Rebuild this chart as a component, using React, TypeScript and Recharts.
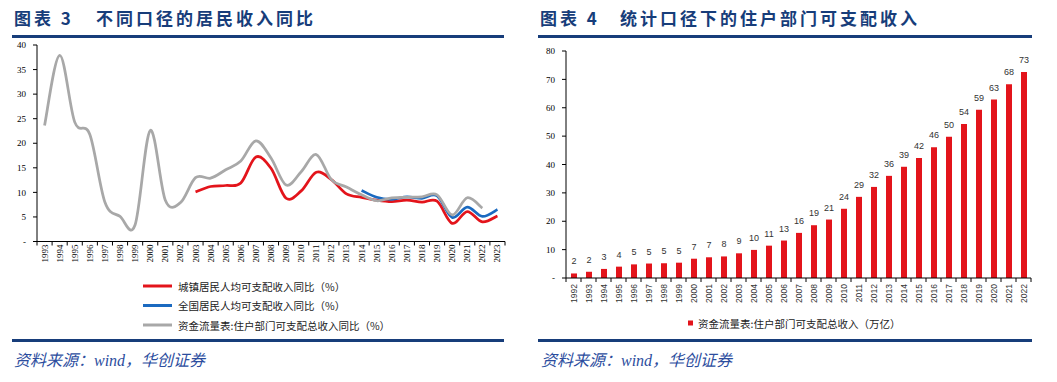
import React from 'react';
import { LineChart, Line, XAxis, YAxis, BarChart, Bar, LabelList } from 'recharts';

// ---------- Left chart data (图表 3) ----------
const lineYears = ['1993','1994','1995','1996','1997','1998','1999','2000','2001','2002','2003','2004','2005','2006','2007','2008','2009','2010','2011','2012','2013','2014','2015','2016','2017','2018','2019','2020','2021','2022','2023'];
const urbanIncomeYoY: (number | null)[] = [null,null,null,null,null,null,null,null,null,null,10.1,11.2,11.4,11.9,17.2,14.9,8.8,10.3,14.1,12.6,9.7,9.0,8.4,8.1,8.4,8.0,8.2,3.7,6.1,4.0,5.2];
const nationalIncomeYoY: (number | null)[] = [null,null,null,null,null,null,null,null,null,null,null,null,null,null,null,null,null,null,null,null,null,10.4,9.0,8.6,9.1,8.8,9.3,4.9,7.0,5.1,6.5];
const flowOfFundsYoY: (number | null)[] = [23.6,37.9,24.3,21.8,8.0,5.1,3.4,22.6,8.4,7.9,13.0,12.9,14.6,16.4,20.5,17.0,11.5,14.2,17.7,12.6,11.1,9.5,8.3,8.9,9.0,9.1,9.5,5.4,8.9,6.8,null];
const lineYTicks = [0,5,10,15,20,25,30,35,40];
const lineSeriesNames = ['城镇居民人均可支配收入同比（%）','全国居民人均可支配收入同比（%）','资金流量表:住户部门可支配总收入同比（%）'];

// ---------- Right chart data (图表 4) ----------
const barYears = ['1992','1993','1994','1995','1996','1997','1998','1999','2000','2001','2002','2003','2004','2005','2006','2007','2008','2009','2010','2011','2012','2013','2014','2015','2016','2017','2018','2019','2020','2021','2022'];
const householdIncome = [1.6,2.2,3.2,4.0,4.8,5.1,5.2,5.4,6.8,7.3,7.6,8.7,9.9,11.4,13.2,15.9,18.6,20.6,24.4,28.6,32.1,36.0,39.2,42.3,46.1,49.8,54.3,59.3,62.9,68.3,72.6];
const barYTicks = [0,10,20,30,40,50,60,70,80];
const barSeriesName = '资金流量表:住户部门可支配总收入（万亿）';

const lineData = lineYears.map((year, i) => ({
  year,
  urban: urbanIncomeYoY[i],
  national: nationalIncomeYoY[i],
  flow: flowOfFundsYoY[i],
}));
const barData = barYears.map((year, i) => ({ year, value: householdIncome[i] }));

// ---------- styling ----------
const RED = '#e3141b';
const BLUE = '#1b6ac0';
const GRAY = '#a8a8a8';
const NAVY = '#173d7a';
const SRC = '#2c4d9e';
const SERIF = '"Liberation Serif", "DejaVu Serif", serif';
const SANS = '"Liberation Sans", Arial, sans-serif';
const CJK = '"Noto Sans CJK SC", sans-serif';

// Excel-like smoothed line (Catmull-Rom via Bezier)
function smoothCurve(context: any) {
  let pts: number[][] = [];
  return {
    areaStart() {},
    areaEnd() {},
    lineStart() { pts = []; },
    point(x: number, y: number) { pts.push([+x, +y]); },
    lineEnd() {
      if (!pts.length) return;
      context.moveTo(pts[0][0], pts[0][1]);
      const t = 1 / 6;
      for (let i = 0; i < pts.length - 1; i++) {
        const p0 = pts[i - 1] || pts[i];
        const p1 = pts[i];
        const p2 = pts[i + 1];
        const p3 = pts[i + 2] || p2;
        context.bezierCurveTo(
          p1[0] + (p2[0] - p0[0]) * t, p1[1] + (p2[1] - p0[1]) * t,
          p2[0] - (p3[0] - p1[0]) * t, p2[1] - (p3[1] - p1[1]) * t,
          p2[0], p2[1]
        );
      }
    },
  };
}

const LEFT_PLOT_W = 468;
const RIGHT_PLOT_W = 465;
const LEFT_BAND = LEFT_PLOT_W / lineYears.length;

function makeTick(band: number, count: number, labelOffset: number, fontSize: number, family: string, color: string) {
  return (props: any) => {
    const { x, y, payload, index } = props;
    const half = band / 2;
    const ty = y + labelOffset;
    return (
      <g>
        <line x1={x - half} x2={x - half} y1={y} y2={y + 4} stroke="#000" strokeWidth={1} />
        {index === count - 1 && <line x1={x + half} x2={x + half} y1={y} y2={y + 4} stroke="#000" strokeWidth={1} />}
        <text
          x={x}
          y={ty}
          transform={`rotate(-90 ${x} ${ty})`}
          textAnchor="end"
          dominantBaseline="central"
          fontSize={fontSize}
          fontFamily={family}
          fill={color}
        >
          {payload.value}
        </text>
      </g>
    );
  };
}

const LeftTick = makeTick(LEFT_BAND, lineYears.length, 3, 9, SERIF, '#000');
const RightTick = makeTick(RIGHT_PLOT_W / barYears.length, barYears.length, 6, 8.5, SANS, '#333');

const yFmt = (v: number) => (v === 0 ? '-' : String(v));

export default function App() {
  return (
    <div style={{ position: 'absolute', left: 0, top: 0, width: 1057, height: 382, background: '#fff', overflow: 'hidden' }}>
      <div style={{ position: 'absolute', left: 0, top: 0 }}>
        <LineChart width={530} height={280} data={lineData} margin={{ top: 45, right: 25, left: 0, bottom: 0 }}>
          <XAxis
            dataKey="year"
            interval={0}
            tickLine={false}
            tickSize={0}
            tickMargin={0}
            height={38.5}
            padding={{ left: LEFT_BAND / 2, right: LEFT_BAND / 2 }}
            axisLine={{ stroke: '#000', strokeWidth: 1 }}
            tick={<LeftTick />}
          />
          <YAxis
            domain={[0, 40]}
            ticks={lineYTicks}
            width={37}
            tickSize={4}
            tickMargin={7}
            tickFormatter={yFmt}
            axisLine={{ stroke: '#000', strokeWidth: 1 }}
            tickLine={{ stroke: '#000' }}
            tick={{ fontSize: 9, fill: '#000', fontFamily: SERIF }}
            interval={0}
          />
          <Line dataKey="urban" name={lineSeriesNames[0]} type={smoothCurve as any} stroke={RED} strokeWidth={2.75} dot={false} isAnimationActive={false} />
          <Line dataKey="national" name={lineSeriesNames[1]} type={smoothCurve as any} stroke={BLUE} strokeWidth={2.75} dot={false} isAnimationActive={false} />
          <Line dataKey="flow" name={lineSeriesNames[2]} type={smoothCurve as any} stroke={GRAY} strokeWidth={2.75} dot={false} isAnimationActive={false} />
        </LineChart>
      </div>

      <div style={{ position: 'absolute', left: 530, top: 0 }}>
        <BarChart width={527} height={320} data={barData} margin={{ top: 51, right: 26, left: 0, bottom: 0 }}>
          <XAxis
            dataKey="year"
            interval={0}
            tickLine={false}
            tickSize={0}
            tickMargin={0}
            height={42}
            axisLine={{ stroke: '#000', strokeWidth: 1 }}
            tick={<RightTick />}
          />
          <YAxis
            domain={[0, 80]}
            ticks={barYTicks}
            width={36}
            tickSize={4}
            tickMargin={7}
            tickFormatter={yFmt}
            axisLine={{ stroke: '#000', strokeWidth: 1 }}
            tickLine={{ stroke: '#000' }}
            tick={{ fontSize: 9, fill: '#000', fontFamily: SERIF }}
            interval={0}
          />
          <Bar dataKey="value" name={barSeriesName} fill={RED} barSize={6} isAnimationActive={false}>
            <LabelList
              dataKey="value"
              position="top"
              offset={9}
              formatter={(v: any) => Math.round(Number(v))}
              style={{ fontSize: 9, fill: '#333', fontFamily: SANS }}
            />
          </Bar>
        </BarChart>
      </div>

      <svg width={1057} height={382} style={{ position: 'absolute', left: 0, top: 0, pointerEvents: 'none' }}>
        {/* titles */}
        <text x={14} y={25} fontSize={17} fontWeight={700} fill={NAVY} fontFamily={CJK} letterSpacing={3}>图表 3</text>
        <text x={96} y={25} fontSize={17} fontWeight={700} fill={NAVY} fontFamily={CJK} letterSpacing={3}>不同口径的居民收入同比</text>
        <text x={540} y={25} fontSize={17} fontWeight={700} fill={NAVY} fontFamily={CJK} letterSpacing={3}>图表 4</text>
        <text x={620} y={25} fontSize={17} fontWeight={700} fill={NAVY} fontFamily={CJK} letterSpacing={3}>统计口径下的住户部门可支配收入</text>

        {/* rules */}
        <rect x={12} y={35} width={492} height={3} fill={NAVY} />
        <rect x={538} y={35} width={494} height={3} fill={NAVY} />
        <rect x={12} y={339} width={492} height={3} fill={NAVY} />
        <rect x={538} y={339} width={494} height={3} fill={NAVY} />

        {/* left legend */}
        {[RED, BLUE, GRAY].map((c, i) => (
          <g key={i}>
            <line x1={143} x2={172} y1={286 + i * 19.5} y2={286 + i * 19.5} stroke={c} strokeWidth={3} />
            <text x={178} y={286 + i * 19.5} dominantBaseline="central" fontSize={10.5} fill="#222" fontFamily={CJK}>
              {lineSeriesNames[i]}
            </text>
          </g>
        ))}

        {/* right legend */}
        <rect x={688} y={320.5} width={5} height={5} fill={RED} />
        <text x={698} y={323} dominantBaseline="central" fontSize={10.5} fill="#222" fontFamily={CJK}>{barSeriesName}</text>

        {/* sources */}
        <text x={14} y={366} fontSize={16} fontStyle="italic" fill={SRC} fontFamily={`${SERIF}, ${CJK}`}>资料来源：wind，华创证券</text>
        <text x={541} y={366} fontSize={16} fontStyle="italic" fill={SRC} fontFamily={`${SERIF}, ${CJK}`}>资料来源：wind，华创证券</text>
      </svg>
    </div>
  );
}
